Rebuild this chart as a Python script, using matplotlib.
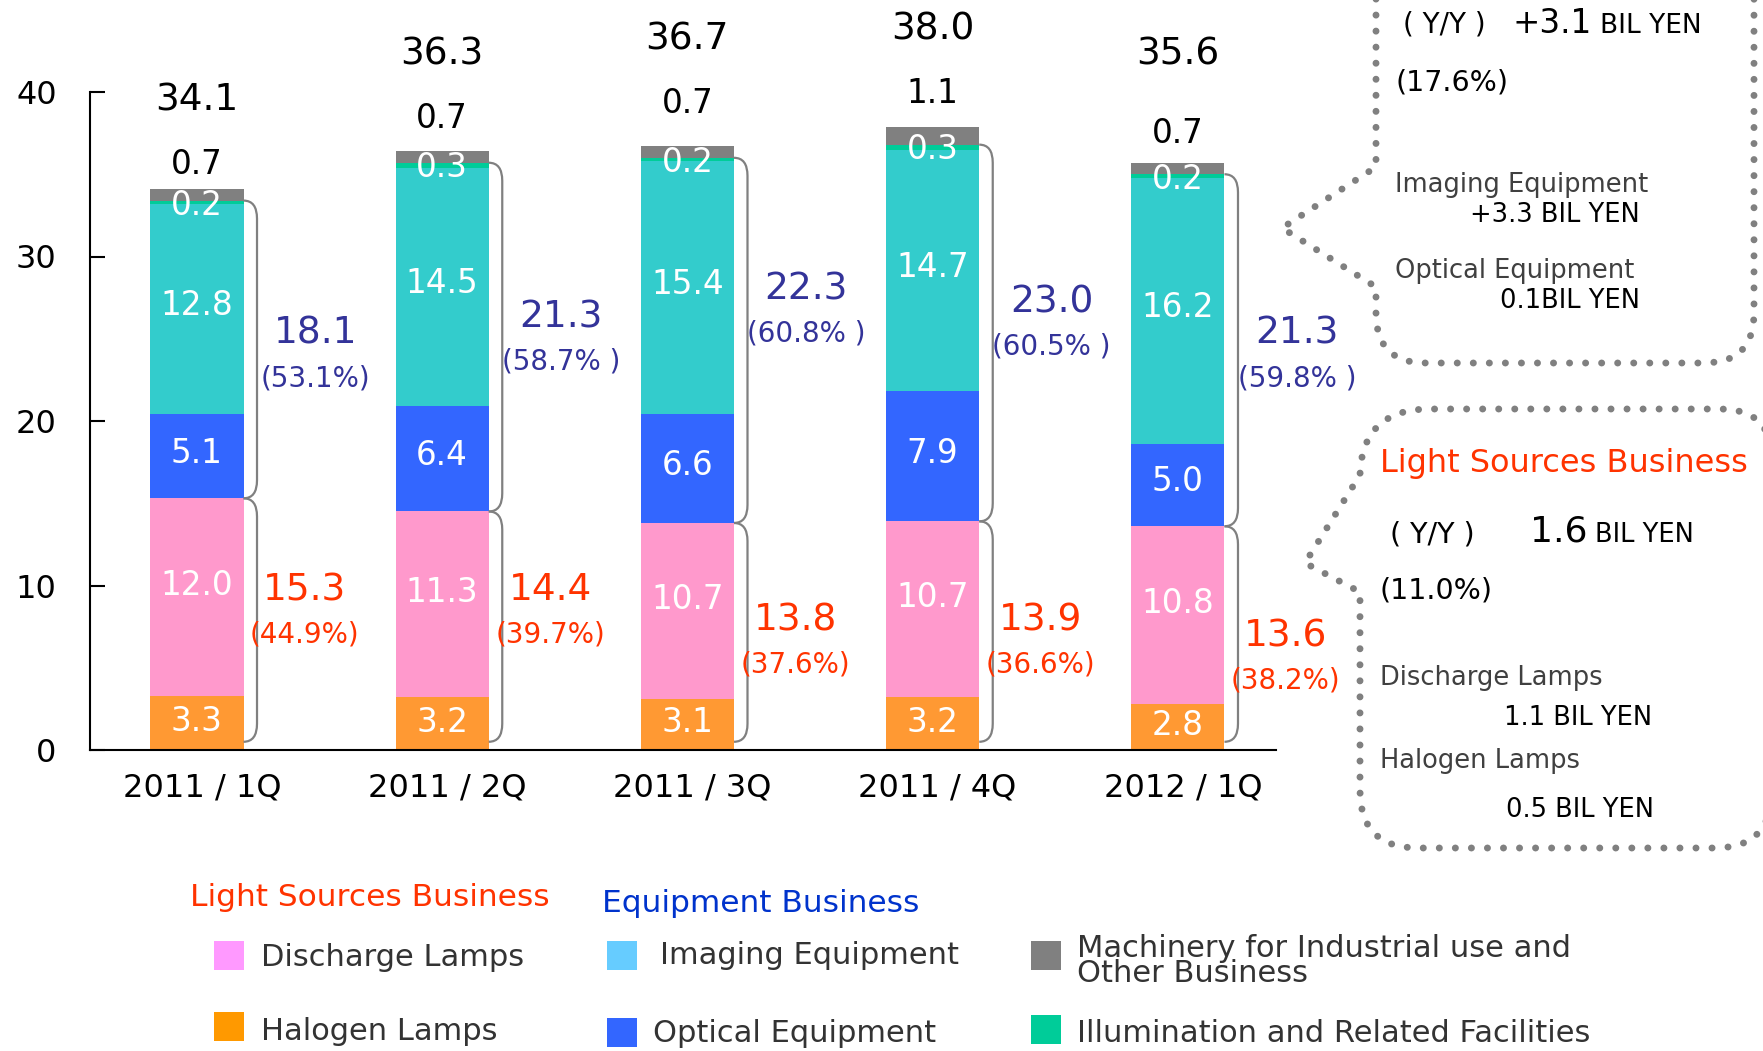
import numpy as np
import matplotlib
matplotlib.use("Agg")
import matplotlib.pyplot as plt
from matplotlib.path import Path
from matplotlib.patches import PathPatch, Rectangle

plt.rcParams["font.family"] = ["DejaVu Sans"]

# ---- data (BIL YEN) ----
quarters = ["2011 / 1Q", "2011 / 2Q", "2011 / 3Q", "2011 / 4Q", "2012 / 1Q"]
halogen = [3.3, 3.2, 3.1, 3.2, 2.8]
discharge = [12.0, 11.3, 10.7, 10.7, 10.8]
optical = [5.1, 6.4, 6.6, 7.9, 5.0]
imaging = [12.8, 14.5, 15.4, 14.7, 16.2]
illumination = [0.2, 0.3, 0.2, 0.3, 0.2]
machinery = [0.7, 0.7, 0.7, 1.1, 0.7]
totals = ["34.1", "36.3", "36.7", "38.0", "35.6"]
light_totals = ["15.3", "14.4", "13.8", "13.9", "13.6"]
light_share = ["(44.9%)", "(39.7%)", "(37.6%)", "(36.6%)", "(38.2%)"]
equip_totals = ["18.1", "21.3", "22.3", "23.0", "21.3"]
equip_share = ["(53.1%)", "(58.7% )", "(60.8% )", "(60.5% )", "(59.8% )"]

# label heights (layout, in axis units)
light_label_y = [9.7, 9.7, 7.9, 7.9, 6.9]
equip_label_y = [25.3, 26.3, 28.0, 27.2, 25.3]
machinery_label_y = [35.6, 38.4, 39.3, 39.9, 37.5]
total_label_y = [39.5, 42.3, 43.2, 43.8, 42.3]

RED = "#FF3300"
PURPLE = "#333399"
GRAY = "#808080"

fig = plt.figure(figsize=(17.63, 10.51), dpi=100)
W, H = 1763, 1051
ax = fig.add_axes([90 / W, 1 - 750 / H, (1276 - 90) / W, (750 - 92) / H])

x = np.arange(len(quarters))
width = 0.38
series = [
    (halogen, "#FF9933"),
    (discharge, "#FF99CC"),
    (optical, "#3366FF"),
    (imaging, "#33CCCC"),
    (illumination, "#00CC99"),
    (machinery, GRAY),
]
bottom = np.zeros(len(x))
bottoms = []
for vals, col in series:
    vals = np.array(vals)
    ax.bar(x, vals, width, bottom=bottom, color=col, edgecolor="none", zorder=2)
    bottoms.append(bottom.copy())
    bottom = bottom + vals
top = bottom

ax.set_xlim(-0.436, 4.40)
ax.set_ylim(0, 40)
ax.set_yticks([0, 10, 20, 30, 40])
ax.tick_params(axis="y", direction="in", length=11, width=1.5, labelsize=23, pad=24)
ax.set_xticks(x + 0.02)
ax.set_xticklabels(quarters)
ax.tick_params(axis="x", length=0, labelsize=23, pad=16)
for s in ["top", "right"]:
    ax.spines[s].set_visible(False)
for s in ["left", "bottom"]:
    ax.spines[s].set_linewidth(1.5)

# white labels inside the segments
lab_kw = dict(ha="center", va="center", color="white", fontsize=23.5, zorder=4)
for i in range(len(x)):
    ax.text(x[i], bottoms[0][i] + halogen[i] / 2 + 0.1, f"{halogen[i]:.1f}", **lab_kw)
    ax.text(x[i], bottoms[1][i] + discharge[i] / 2 + 0.7, f"{discharge[i]:.1f}", **lab_kw)
    ax.text(x[i], bottoms[2][i] + optical[i] / 2 + 0.2, f"{optical[i]:.1f}", **lab_kw)
    ax.text(x[i], bottoms[3][i] + imaging[i] / 2 + 0.2, f"{imaging[i]:.1f}", **lab_kw)
    ax.text(x[i], bottoms[5][i] - 0.3, f"{illumination[i]:.1f}", **lab_kw)
    ax.text(x[i], machinery_label_y[i], f"{machinery[i]:.1f}", ha="center", va="center",
            fontsize=23.5, color="black", clip_on=False)
    ax.text(x[i], total_label_y[i], totals[i], ha="center", va="center",
            fontsize=27, color="black", clip_on=False)


def bracket(xr, y0, y1, dx=0.055, r=1.1):
    verts = [(xr, y1), (xr + dx, y1), (xr + dx, y1 - r),
             (xr + dx, y0 + r), (xr + dx, y0), (xr, y0)]
    codes = [Path.MOVETO, Path.CURVE3, Path.CURVE3,
             Path.LINETO, Path.CURVE3, Path.CURVE3]
    ax.add_patch(PathPatch(Path(verts, codes), fill=False, edgecolor=GRAY,
                           lw=1.6, zorder=3, clip_on=False))


for i in range(len(x)):
    xr = x[i] + width / 2
    light_top = bottoms[2][i]
    equip_top = bottoms[5][i]
    bracket(xr, light_top, equip_top)
    bracket(xr, 0.5, light_top)
    ax.text(x[i] + 0.485, equip_label_y[i], equip_totals[i], ha="center", va="center",
            fontsize=27, color=PURPLE, clip_on=False)
    ax.text(x[i] + 0.485, equip_label_y[i] - 2.7, equip_share[i], ha="center",
            va="center", fontsize=20, color=PURPLE, clip_on=False)
    ax.text(x[i] + 0.44, light_label_y[i], light_totals[i], ha="center", va="center",
            fontsize=27, color=RED, clip_on=False)
    ax.text(x[i] + 0.44, light_label_y[i] - 2.7, light_share[i], ha="center",
            va="center", fontsize=20, color=RED, clip_on=False)

# ---- overlay in pixel coordinates for call-out boxes and legend ----
ov = fig.add_axes([0, 0, 1, 1], facecolor="none")
ov.set_xlim(0, W)
ov.set_ylim(H, 0)
ov.axis("off")

dot_kw = dict(fill=False, edgecolor=GRAY, lw=5, linestyle=(0, (0.01, 2.3)),
              capstyle="round", clip_on=False)

# equipment call-out
v = [(1376, -10), (1376, 167), (1282, 228), (1376, 287), (1376, 313),
     (1376, 363), (1426, 363), (1704, 363), (1754, 363), (1754, 313), (1754, -10)]
c = [Path.MOVETO, Path.LINETO, Path.LINETO, Path.LINETO, Path.LINETO,
     Path.CURVE3, Path.CURVE3, Path.LINETO, Path.CURVE3, Path.CURVE3, Path.LINETO]
ov.add_patch(PathPatch(Path(v, c), **dot_kw))

# light sources call-out
v = [(1772, 460), (1772, 409), (1720, 409), (1430, 409), (1362, 409), (1360, 475),
     (1305, 563), (1360, 592), (1360, 790), (1360, 848), (1418, 848),
     (1715, 848), (1772, 848), (1772, 790), (1772, 460)]
c = [Path.MOVETO, Path.CURVE3, Path.CURVE3, Path.LINETO, Path.CURVE3, Path.CURVE3,
     Path.LINETO, Path.LINETO, Path.LINETO, Path.CURVE3, Path.CURVE3,
     Path.LINETO, Path.CURVE3, Path.CURVE3, Path.LINETO]
ov.add_patch(PathPatch(Path(v, c), **dot_kw))

DARK = "#404040"
t = dict(va="baseline", clip_on=False)
ov.text(1403, 33, "( Y/Y )", fontsize=20, color="black", **t)
ov.text(1513, 33, "+3.1", fontsize=23.5, color="black", **t)
ov.text(1600, 33, "BIL YEN", fontsize=19, color="black", **t)
ov.text(1395, 91, "(17.6%)", fontsize=20.5, color="black", **t)
ov.text(1395, 192, "Imaging Equipment", fontsize=18.5, color=DARK, **t)
ov.text(1640, 222, "+3.3 BIL YEN", fontsize=18.5, color="black", ha="right", **t)
ov.text(1395, 278, "Optical Equipment", fontsize=18.5, color=DARK, **t)
ov.text(1640, 308, "0.1BIL YEN", fontsize=18.5, color="black", ha="right", **t)

ov.text(1380, 472, "Light Sources Business", fontsize=23, color=RED, **t)
ov.text(1390, 542, "( Y/Y )", fontsize=20.5, color="black", **t)
ov.text(1530, 542, "1.6", fontsize=26, color="black", **t)
ov.text(1595, 542, "BIL YEN", fontsize=18.5, color="black", **t)
ov.text(1380, 598, "(11.0%)", fontsize=20.5, color="black", **t)
ov.text(1380, 685, "Discharge Lamps", fontsize=18.5, color=DARK, **t)
ov.text(1652, 725, "1.1 BIL YEN", fontsize=18.5, color="black", ha="right", **t)
ov.text(1380, 768, "Halogen Lamps", fontsize=18.5, color=DARK, **t)
ov.text(1654, 817, "0.5 BIL YEN", fontsize=18.5, color="black", ha="right", **t)

# legend
LEG = "#333333"
ov.text(190, 898, "Light Sources Business", fontsize=22.5, color=RED, va="center")
ov.text(602, 903, "Equipment Business", fontsize=22.5, color="#0033CC", va="center")
legend_items = [
    (214, 941, "#FF99FF", 261, 957, "Discharge Lamps"),
    (214, 1012, "#FF9900", 261, 1031, "Halogen Lamps"),
    (607, 941, "#66CCFF", 660, 955, "Imaging Equipment"),
    (607, 1018, "#3366FF", 653, 1034, "Optical Equipment"),
    (1031, 941, GRAY, 1077, 961, "Machinery for Industrial use and\nOther Business"),
    (1031, 1015, "#00CC99", 1077, 1034, "Illumination and Related Facilities"),
]
for rx, ry, col, tx, ty, label in legend_items:
    ov.add_patch(Rectangle((rx, ry), 30, 29, facecolor=col, edgecolor="none"))
    ov.text(tx, ty, label, fontsize=22, color=LEG, va="center",
            linespacing=0.8)

fig.savefig("out.png", dpi=100)
